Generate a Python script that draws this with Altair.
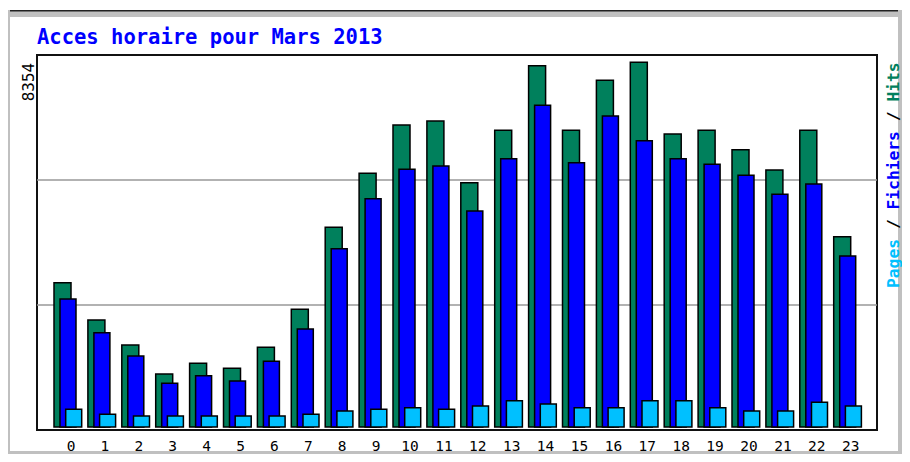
import altair as alt
import pandas as pd

# ---- data ----
hours = list(range(24))
hits = [3305, 2451, 1878, 1214, 1459, 1345, 1826, 2696, 4574, 5811, 6918, 7009,
        5596, 6796, 8276, 6796, 7941, 8354, 6711, 6796, 6352, 5887, 6796, 4359]
files = [2932, 2160, 1626, 1001, 1175, 1054, 1505, 2245, 4084, 5229, 5903, 5978,
         4948, 6146, 7369, 6054, 7124, 6558, 6146, 6017, 5765, 5330, 5566, 3917]
pages = [405, 291, 252, 252, 252, 252, 252, 291, 366, 405, 442, 405,
         481, 602, 527, 442, 442, 602, 602, 442, 366, 366, 566, 481]
max_label = [8354]
title_text = "Acces horaire pour Mars 2013"
legend_parts = ["Pages", " / ", "Fichiers", " / ", "Hits"]

GREEN = "#00805c"
BLUE = "#0000ff"
CYAN = "#00c0ff"
legend_colors = [CYAN, "#000000", BLUE, "#000000", GREEN]

W, H = 840, 375
Y_DOMAIN = [-68.7, 8521]
grid_vals = [Y_DOMAIN[0] + (Y_DOMAIN[1] - Y_DOMAIN[0]) * f for f in (1 / 3, 2 / 3)]

df = pd.DataFrame({"hour": hours, "hits": hits, "files": files, "pages": pages})
one = pd.DataFrame({"a": [0]})

MONO = "DejaVu Sans Mono"

x_enc = alt.X(
    "hour:O",
    scale=alt.Scale(range=[14.05, 827.65], paddingInner=0, paddingOuter=0),
    axis=alt.Axis(title=None, ticks=False, domain=False, grid=False, labelAngle=0,
                  labelFont=MONO, labelFontSize=14.5, labelColor="#000000",
                  labelPadding=9, labelOffset=3, zindex=1),
)
yscale = alt.Scale(domain=Y_DOMAIN, nice=False, zero=False)
y_axis = alt.Axis(title=None, values=max_label, format="d", ticks=False, tickSize=0,
                  domain=False, grid=False, labelAngle=270, labelAlign="right",
                  labelBaseline="alphabetic", labelPadding=4, labelFont=MONO,
                  labelFontSize=16, labelColor="#000000", labelOverlap=False,
                  labelFlush=False, labelBound=False, zindex=1)

def bars(field, color, width, offset):
    return alt.Chart(df).mark_bar(
        width=width, xOffset=offset, color=color, stroke="#000000", strokeWidth=1.5
    ).encode(x=x_enc, y=alt.Y(f"{field}:Q", scale=yscale, axis=y_axis))

grid = alt.Chart(pd.DataFrame({"v": grid_vals})).mark_rule(
    color="#999999", strokeWidth=1.5
).encode(y=alt.Y("v:Q", scale=yscale, axis=y_axis))

# decorative gray frame strips around the image
def strip(x1, x2, y1, y2, color="#c0c0c0"):
    return alt.Chart(one).mark_rect(color=color).encode(
        x=alt.value(x1), x2=alt.value(x2), y=alt.value(y1), y2=alt.value(y2))

frame = [
    strip(-29, 865, -45, -38),
    strip(-29, 865, -45, -43.5, "#202020"),
    strip(-29, -27, -45, 399),
    strip(861, 865, -45, 399),
    strip(-29, 865, 396, 399),
]

title = alt.Chart(one).mark_text(
    text=title_text, font=MONO, fontSize=20.5, fontWeight="bold", color=BLUE,
    align="left", baseline="alphabetic"
).encode(x=alt.value(0), y=alt.value(-11.5))

# rotated multi-coloured legend, placed character by character (monospace)
legend = []
idx = 0
adv = 0.602 * 16.3
for part, col in zip(legend_parts, legend_colors):
    lead = len(part) - len(part.lstrip(" "))
    legend.append(alt.Chart(one).mark_text(
        text=part.strip(), font=MONO, fontSize=16.3, fontWeight="bold", color=col,
        angle=270, align="left", baseline="alphabetic"
    ).encode(x=alt.value(862), y=alt.value(233 - (idx + lead) * adv)))
    idx += len(part)

chart = alt.layer(
    *frame,
    grid,
    bars("hits", GREEN, 17, -5.5),
    bars("files", BLUE, 16, 0),
    bars("pages", CYAN, 16, 5.7),
    title,
    *legend,
).properties(
    width=W, height=H,
    padding={"left": 29, "top": 47, "right": 25, "bottom": 24},
    autosize=alt.AutoSizeParams(type="none"),
    background="white",
).configure_view(stroke="#111111", strokeWidth=2, fill="white")

chart.save("out.html", embed_options={"renderer": "svg", "actions": False})
